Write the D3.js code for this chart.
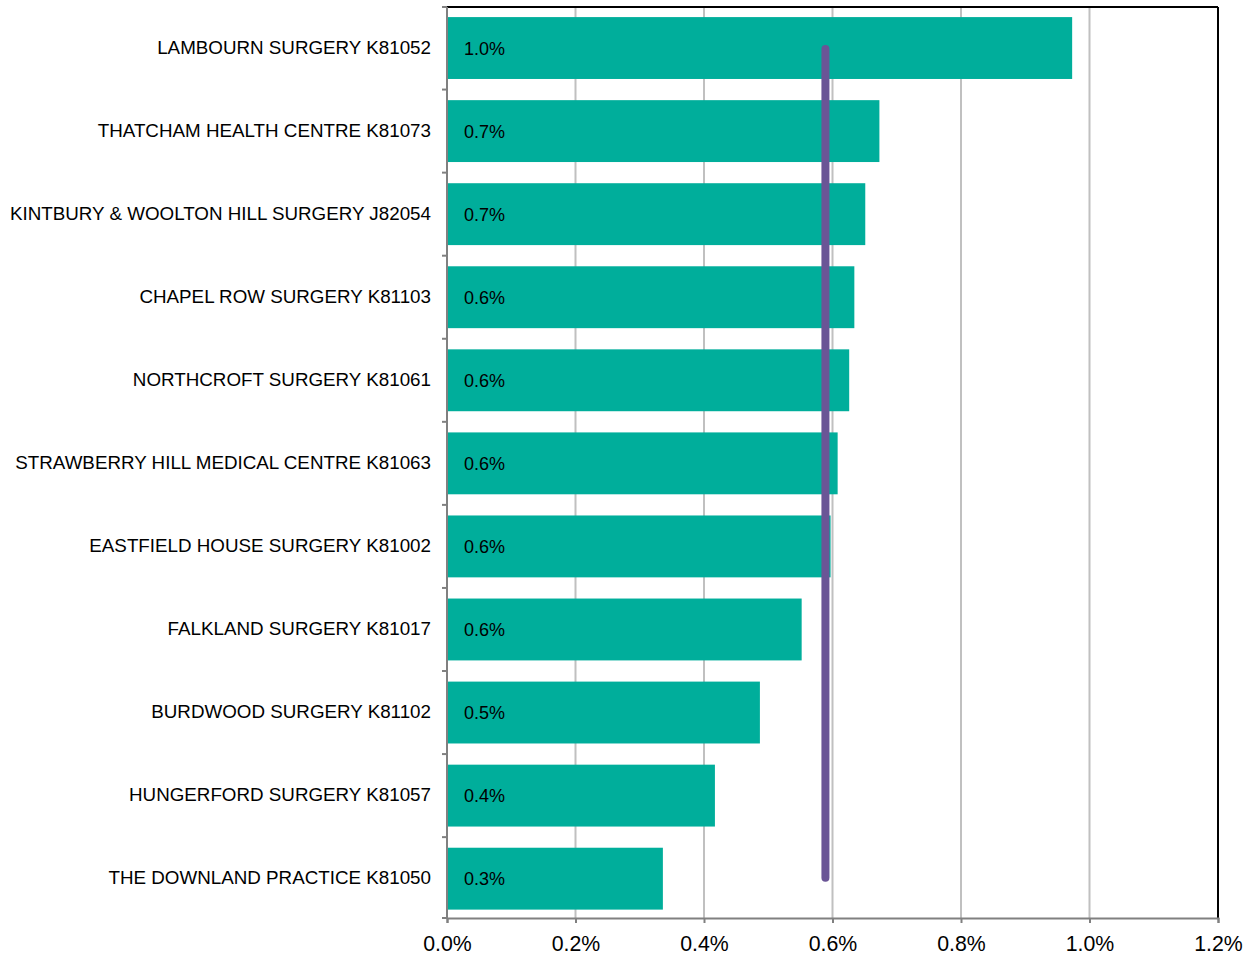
<!DOCTYPE html>
<html><head><meta charset="utf-8">
<script src="https://cdn.jsdelivr.net/npm/d3@7"></script>
<style>body{margin:0;background:#fff;font-family:"Liberation Sans",Arial,sans-serif;}</style>
</head><body><svg id="c" width="1246" height="957"></svg>
<script>
const categories = ["LAMBOURN SURGERY K81052","THATCHAM HEALTH CENTRE K81073","KINTBURY & WOOLTON HILL SURGERY J82054","CHAPEL ROW SURGERY K81103","NORTHCROFT SURGERY K81061","STRAWBERRY HILL MEDICAL CENTRE K81063","EASTFIELD HOUSE SURGERY K81002","FALKLAND SURGERY K81017","BURDWOOD SURGERY K81102","HUNGERFORD SURGERY K81057","THE DOWNLAND PRACTICE K81050"];
const values = [0.973,0.673,0.651,0.634,0.626,0.608,0.597,0.552,0.487,0.417,0.336];
const average = 0.589;
const xTicks = [0,0.2,0.4,0.6,0.8,1.0,1.2];

const svg = d3.select("#c");
const L=447, R=1218, T=7, B=918;
const x = d3.scaleLinear().domain([0,1.2]).range([L,R]);
const y = d3.scaleBand().domain(categories).range([6.5,920.2]).paddingInner(0.255).paddingOuter(0.1275);

// gridlines
svg.append("g").selectAll("line").data(xTicks.slice(1)).join("line")
  .attr("x1",d=>x(d)).attr("x2",d=>x(d)).attr("y1",T).attr("y2",B)
  .attr("stroke","#c0c0c0").attr("stroke-width",2);

// bars
svg.append("g").selectAll("rect").data(values).join("rect")
  .attr("x",L).attr("y",(d,i)=>y(categories[i]))
  .attr("width",d=>x(d)-L).attr("height",y.bandwidth())
  .attr("fill","#00ae9b");

// bar labels
svg.append("g").selectAll("text").data(values).join("text")
  .attr("x",L+17).attr("y",(d,i)=>y(categories[i])+y.bandwidth()/2)
  .attr("dy","0.36em").attr("font-size",18).attr("fill","#000")
  .text(d=>d.toFixed(1)+"%");

// average line
svg.append("line")
  .attr("x1",x(average)).attr("x2",x(average))
  .attr("y1",y(categories[0])+y.bandwidth()/2+1).attr("y2",y(categories[categories.length-1])+y.bandwidth()/2-1)
  .attr("stroke","#6a5596").attr("stroke-width",8).attr("stroke-linecap","round");

// frame top/right
svg.append("line").attr("x1",L).attr("x2",R).attr("y1",T).attr("y2",T).attr("stroke","#000").attr("stroke-width",2);
svg.append("line").attr("x1",R).attr("x2",R).attr("y1",T).attr("y2",B).attr("stroke","#000").attr("stroke-width",2);

// x axis
const xa = svg.append("g").attr("transform",`translate(0,${B})`)
  .call(d3.axisBottom(x).tickValues(xTicks).tickFormat(d=>d.toFixed(1)+"%").tickSize(5).tickPadding(13));
xa.select(".domain").attr("stroke","#808080").attr("stroke-width",2);
xa.selectAll(".tick line").attr("stroke","#808080").attr("stroke-width",2);
xa.selectAll("text").attr("font-size",21.3).attr("fill","#000").attr("font-family","Liberation Sans, Arial, sans-serif");

// y axis
const ya = svg.append("g").attr("transform",`translate(${L},0)`)
  .call(d3.axisLeft(y).tickSize(0).tickPadding(16));
ya.select(".domain").attr("stroke","#808080").attr("stroke-width",2).attr("d",`M0,${T}V${B}`);
ya.selectAll("text").attr("font-size",18.8).attr("fill","#000").attr("font-family","Liberation Sans, Arial, sans-serif").attr("dy","0.3em");
// band boundary ticks
const bounds = d3.range(1, categories.length).map(i=>y(categories[i])-y.step()*y.paddingInner()/2);
bounds.unshift(T); bounds.push(B);
ya.append("g").selectAll("line").data(bounds).join("line")
  .attr("x1",-5).attr("x2",0).attr("y1",d=>d).attr("y2",d=>d)
  .attr("stroke","#808080").attr("stroke-width",2);
</script></body></html>
